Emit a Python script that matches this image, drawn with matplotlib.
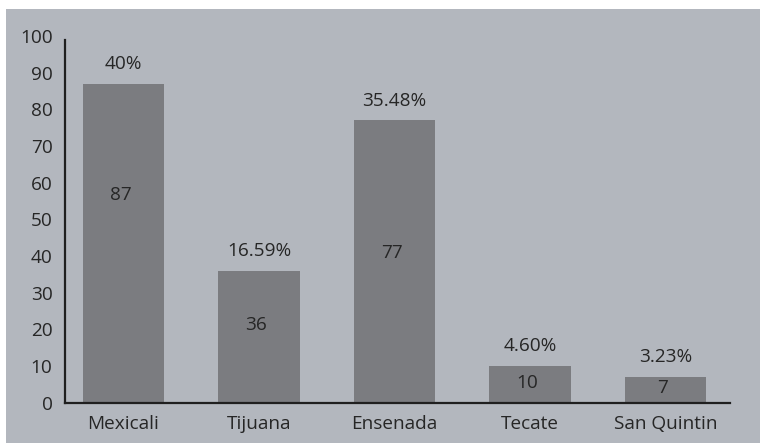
import matplotlib
matplotlib.use('Agg')
from matplotlib import pyplot as plt
from matplotlib.patches import Rectangle

cities = ['Mexicali', 'Tijuana', 'Ensenada', 'Tecate', 'San Quintin']
counts = [87, 36, 77, 10, 7]
percents = ['40%', '16.59%', '35.48%', '4.60%', '3.23%']
# where the count label sits, as a share of the bar height
inner_pos = [0.65, 0.59, 0.53, 0.53, 0.57]

bg = '#b3b7be'
bar_color = '#7b7c80'
text_color = '#262626'
fs = 13.7

plt.rcParams['font.family'] = ['Open Sans', 'DejaVu Sans']

fig = plt.figure(figsize=(7.6, 4.43), dpi=100)
fig.patch.set_facecolor('white')
fig.patches.append(Rectangle((6/760, 0), 1 - 6/760, 1 - 9/443, transform=fig.transFigure,
                             facecolor=bg, edgecolor='none', zorder=-5))

ax = fig.add_axes([65/760, 40.5/443, 665/760, 366.5/443])
ax.set_facecolor('none')

x = list(range(len(cities)))
ax.bar(x, counts, width=0.6, color=bar_color, zorder=2)

for i in x:
    ax.text(i - 0.02, counts[i] * inner_pos[i], str(counts[i]), ha='center', va='center',
            fontsize=fs, color=text_color, zorder=3)
    ax.annotate(percents[i], xy=(i, counts[i]), xytext=(0, 14), textcoords='offset points',
                ha='center', va='center', fontsize=fs, color=text_color)

ax.set_xlim(-0.432, 4.476)
ax.set_ylim(0, 100)
ax.set_yticks(range(0, 101, 10))
ax.set_xticks(x)
ax.set_xticklabels(cities)

for s in ['top', 'right']:
    ax.spines[s].set_visible(False)
for s in ['left', 'bottom']:
    ax.spines[s].set_color('#1f1f1f')
    ax.spines[s].set_linewidth(1.6)
ax.spines['left'].set_bounds(0, 99)

ax.tick_params(axis='y', length=0, pad=9, labelsize=fs, labelcolor=text_color)
ax.tick_params(axis='x', length=0, pad=9, labelsize=fs, labelcolor=text_color)

fig.savefig('out.png', dpi=100, facecolor=fig.get_facecolor())
